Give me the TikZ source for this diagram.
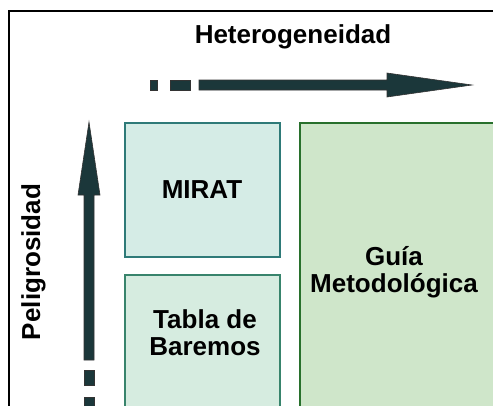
\documentclass[tikz,border=0pt]{standalone}
\usepackage{fontspec}
\setmainfont{Liberation Sans}
\usepackage{xcolor}
\usetikzlibrary{positioning, calc}

\definecolor{axisdark}{RGB}{27,55,58}
\definecolor{miratfill}{RGB}{213,236,230}
\definecolor{miratline}{RGB}{46,122,120}
\definecolor{tablafill}{RGB}{214,236,224}
\definecolor{tablaline}{RGB}{56,132,108}
\definecolor{guiafill}{RGB}{207,230,202}
\definecolor{guialine}{RGB}{40,112,44}

\begin{document}
\begin{tikzpicture}[x=1pt, y=-1pt, thick]

		% Define styles
		\tikzstyle{label} = [font=\fontsize{26}{27}\selectfont\bfseries, align=center, inner sep=0pt]
		\tikzstyle{axis} = [fill=axisdark, draw=black!80, line width=0.6pt]
		\tikzstyle{mirat} = [fill=miratfill, draw=miratline, line width=2.4pt]
		\tikzstyle{tabla} = [fill=tablafill, draw=tablaline, line width=2.4pt]
		\tikzstyle{guia} = [fill=guiafill, draw=guialine, line width=2.4pt]

		\useasboundingbox (0,0) rectangle (493,405);
		\clip (0,0) rectangle (493,405);

		% Frame
		\draw[line width=2pt] (9,420) -- (9,11) -- (500,11);

		% Boxes
		\draw[mirat] (125,123) rectangle (280,257);
		\draw[tabla] (125,275) rectangle (280,430);
		\draw[guia] (300,123) rectangle (520,430);

		% Axes
		\draw[axis] (199,80) -- (387,80) -- (387,73) -- (472,85) -- (387,97) -- (387,90) -- (199,90) -- cycle;
		\draw[axis] (150,80) rectangle (157,90);
		\draw[axis] (170,80) rectangle (190,90);

		\draw[axis] (84,360) -- (84,195) -- (78,195) -- (89,122) -- (100,195) -- (94,195) -- (94,360) -- cycle;
		\draw[axis] (84,370) rectangle (94,385);
		\draw[axis] (84,397) rectangle (94,412);

		% Labels
		\node[label, anchor=base] (het) at (293,43) {Heterogeneidad};
		\node[label, rotate=90, anchor=base] (pel) at (40,262) {Peligrosidad};
		\node[label, anchor=base] (miratlbl) at (202,198) {MIRAT};
		\node[label, anchor=base] (tablalbl) at (205,355) {Tabla de\\Baremos};
		\node[label, anchor=base] (guialbl) at (394,292) {Guía\\Metodológica};

\end{tikzpicture}
\end{document}
